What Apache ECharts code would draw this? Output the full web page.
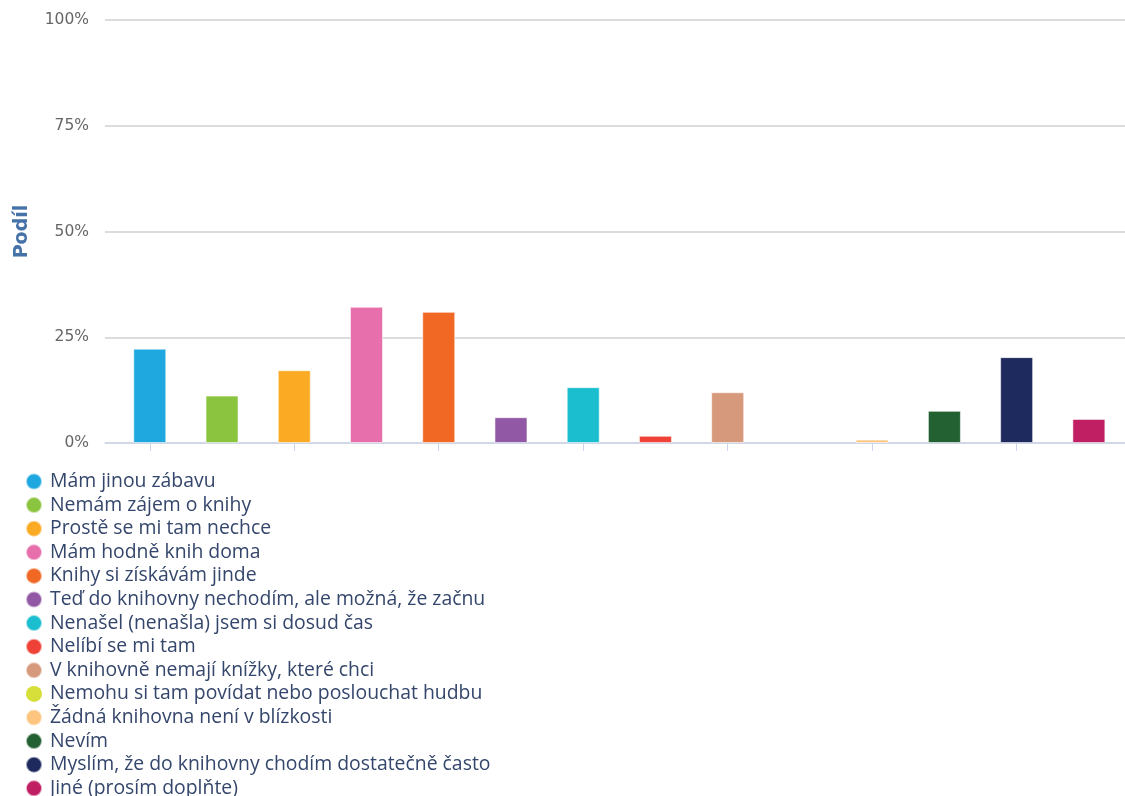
<!DOCTYPE html>
<html><head><meta charset="utf-8">
<script src="https://cdn.jsdelivr.net/npm/echarts@6/dist/echarts.min.js"></script>
<style>html,body{margin:0;padding:0;background:#fff}#c{width:1125px;height:796px}</style>
</head><body><div id="c"></div>
<script>
const categories = [
  "Mám jinou zábavu",
  "Nemám zájem o knihy",
  "Prostě se mi tam nechce",
  "Mám hodně knih doma",
  "Knihy si získávám jinde",
  "Teď do knihovny nechodím, ale možná, že začnu",
  "Nenašel (nenašla) jsem si dosud čas",
  "Nelíbí se mi tam",
  "V knihovně nemají knížky, které chci",
  "Nemohu si tam povídat nebo poslouchat hudbu",
  "Žádná knihovna není v blízkosti",
  "Nevím",
  "Myslím, že do knihovny chodím dostatečně často",
  "Jiné (prosím doplňte)"
];
const values = [22.3, 11.2, 17.2, 32.2, 31.0, 6.1, 13.2, 1.7, 12.0, 0, 0.8, 7.6, 20.3, 5.7];
const colors = ["#1fa8e0","#8bc53f","#fbaa24","#e76fab","#f16724","#9158a5","#1bbecf","#ef4136","#d6997b","#d6df3a","#fdc57e","#236133","#1e2a5e","#c01f63"];
const yTicks = [0, 25, 50, 75, 100];
const xTicks = [0, 2, 4, 6, 8, 10, 12];

const chart = echarts.init(document.getElementById('c'));
const series = categories.map((name, i) => ({
  name: name,
  type: 'bar',
  barWidth: 33,
  barGap: '-100%',
  itemStyle: { color: colors[i], borderColor: 'rgba(255,255,255,0.55)', borderWidth: values[i] > 0 ? 1 : 0 },
  data: values[i] > 0 ? [[i, values[i]]] : []
}));
chart.setOption({
  animation: false,
  color: colors,
  grid: { left: 105, right: 0, top: 20, height: 423, containLabel: false, outerBoundsMode: 'none' },
  legend: {
    orient: 'vertical', left: 20, top: 467, height: 420,
    icon: 'circle', itemWidth: 16, itemHeight: 16, itemGap: 4.6,
    textStyle: { fontFamily: 'Open Sans', fontSize: 19.4, color: '#34466b', padding: [0,0,0,3] },
    data: categories
  },
  xAxis: {
    type: 'value', min: -0.62, max: 13.5,
    splitLine: { show: false },
    axisLabel: { show: false },
    axisLine: { onZero: false, lineStyle: { color: '#ccd6eb', width: 1.5 } },
    axisTick: { show: true, customValues: xTicks, length: 8, lineStyle: { color: '#ccd6eb' } }
  },
  yAxis: {
    type: 'value', min: 0, max: 100, interval: 25,
    name: 'Podíl', nameLocation: 'middle', nameGap: 73, nameRotate: 90,
    nameTextStyle: { color: '#4572a7', fontWeight: 'bold', fontSize: 19, fontFamily: 'DejaVu Sans' },
    axisLabel: { formatter: v => yTicks.includes(v) ? v + '%' : '', color: '#666', fontSize: 15.5, fontFamily: 'DejaVu Sans', margin: 16 },
    splitLine: { lineStyle: { color: '#d0d0d0', width: 1.5 } },
    axisLine: { show: false }, axisTick: { show: false }
  },
  series: series
});
</script></body></html>
